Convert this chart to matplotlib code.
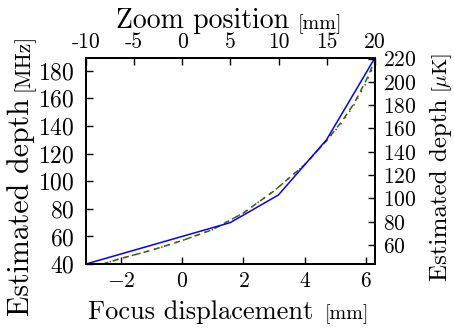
import numpy as np
import matplotlib
matplotlib.use("Agg")
import matplotlib.pyplot as plt

plt.rcParams['font.family'] = 'serif'
plt.rcParams['font.serif'] = ['cmr10']
plt.rcParams['mathtext.fontset'] = 'cm'
plt.rcParams['axes.formatter.use_mathtext'] = True

# focus displacement [mm] vs estimated depth, piecewise measured points
focus_x = [-3.14, -1.57, 0.0, 1.57, 3.14, 4.71, 6.28]
depth_meas = [40, 50, 60, 70, 90, 130, 189]

# two fitted curves
fit_x = [-2.6, -2.0, -1.0, 0.0, 1.0, 2.0, 3.0, 4.0, 4.7, 5.2, 5.6, 6.0, 6.28]
fit_green = [40, 44, 50, 57, 65, 77, 93, 112, 129, 143, 156, 173, 187]
fit_red = [40, 44, 50, 57, 65, 77, 93, 112, 129, 142, 155, 171, 185]

zoom_ticks = [-10, -5, 0, 5, 10, 15, 20]
zoom_labels = ['-10', '-5', '0', '5', '10', '15', '20']

fig = plt.figure(figsize=(4.54, 3.33), dpi=100)
ax = fig.add_axes([0.189, 0.207, 0.637, 0.619])

ax.plot(focus_x, depth_meas, color='#0000ff', lw=1.1, zorder=3)
ax.plot(fit_x, fit_green, color='#008000', ls='--', lw=1.1, dashes=(4, 3))
ax.plot(fit_x, fit_red, color='#ff0000', ls=':', lw=1.1, dashes=(1, 4))

ax.set_xlim(-3.14, 6.29)
ax.set_ylim(40, 189.2)
ax.set_xticks([-2, 0, 2, 4, 6])
ax.set_yticks([40, 60, 80, 100, 120, 140, 160, 180])

# right axis (other unit)
ax2 = ax.twinx()
ax2.set_ylim(43.7, 220.5)
ax2.set_yticks([60, 80, 100, 120, 140, 160, 180, 200, 220])

# top axis (zoom position)
ax3 = ax.twiny()
ax3.set_xlim(-10, 20)
ax3.set_xticks(zoom_ticks)
ax3.set_xticklabels(zoom_labels)

for a in (ax, ax2, ax3):
    a.tick_params(direction='in', length=5, width=1, labelsize=15.5, pad=5)
    for s in a.spines.values():
        s.set_linewidth(1.3)
ax.tick_params(axis='y', pad=8, labelsize=17)
ax.tick_params(axis='x', pad=5)
ax2.tick_params(axis='y', pad=6)
ax3.tick_params(axis='x', pad=4)

# axis labels, unit part smaller
ax.set_xlabel('Focus displacement', fontsize=19)
ax.xaxis.set_label_coords(0.396, -0.175)
ax.annotate('[mm]', xy=(1, 0), xycoords=ax.xaxis.label, xytext=(8, 0),
            textcoords='offset points', ha='left', va='bottom', fontsize=14.5)

ax3.set_xlabel('Zoom position', fontsize=20)
ax3.xaxis.set_label_coords(0.403, 1.145)
ax3.annotate('[mm]', xy=(1, 0), xycoords=ax3.xaxis.label, xytext=(6, 0),
             textcoords='offset points', ha='left', va='bottom', fontsize=14.5)

ax.set_ylabel('Estimated depth', fontsize=21.5)
ax.yaxis.set_label_coords(-0.176, 0.277)
ax.annotate('[MHz]', xy=(1, 1), xycoords=ax.yaxis.label, xytext=(0, 5),
            textcoords='offset points', ha='right', va='bottom', rotation=90,
            fontsize=15.5)

ax2.set_ylabel('Estimated depth', fontsize=18)
ax2.yaxis.set_label_coords(1.19, 0.36)
ax2.annotate(r'[$\mu$K]', xy=(0, 1), xycoords=ax2.yaxis.label, xytext=(0, 4),
             textcoords='offset points', ha='left', va='bottom', rotation=90,
             fontsize=15)

fig.savefig('out.png', dpi=100)
